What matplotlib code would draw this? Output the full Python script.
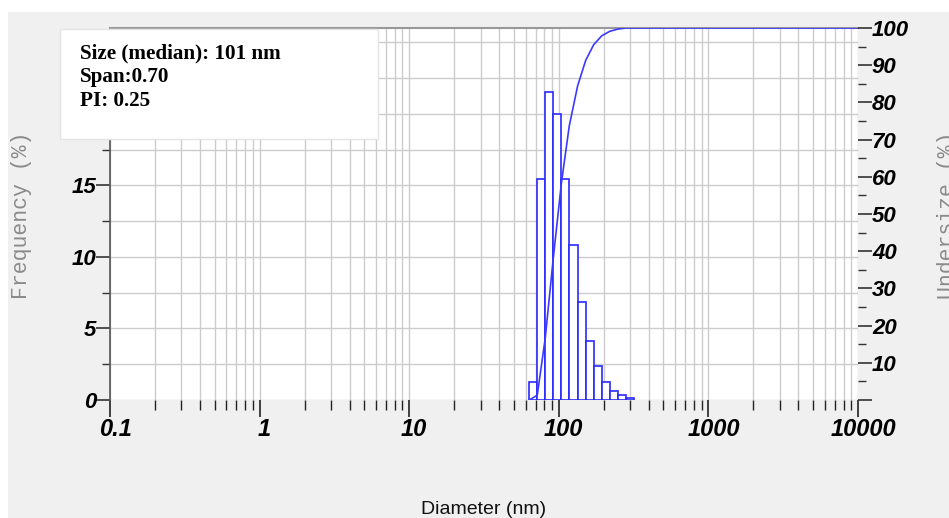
import matplotlib.pyplot as plt
from matplotlib.patches import Rectangle
from matplotlib.ticker import FixedLocator, NullFormatter, FixedFormatter
import matplotlib.transforms as mtransforms
import numpy as np

# bin edges (nm) and frequency (%)
bin_edges = [63.5, 71.8, 81.2, 91.9, 104, 117.5, 133.7, 151.3, 171, 193.6, 218.8, 247.6, 280, 316]
frequency = [1.26, 15.45, 21.5, 20.0, 15.45, 10.8, 6.87, 4.13, 2.38, 1.24, 0.65, 0.33, 0.16]

# cumulative undersize curve (%)
cum_d = [63.5, 71.8, 81.2, 91.9, 104, 117.5, 133.7, 151.3, 171, 193.6, 218.8, 247.6, 280, 10000]
cum_pct = [0, 1.3, 16.7, 38.2, 58.2, 73.7, 84.5, 91.3, 95.5, 97.9, 99.1, 99.7, 100, 100]

x_ticks = [0.1, 1, 10, 100, 1000, 10000]
x_ticklabels = ['0.1', '1', '10', '100', '1000', '10000']
y_ticks = [0, 5, 10, 15, 20, 25]
y_ticklabels = ['0', '5', '10', '15', '', '']   # 20 and 25 sit behind the info box
info_lines = ['Size (median): 101 nm', 'Span:0.70', 'PI: 0.25']

W, H = 949, 518
fig = plt.figure(figsize=(W / 100, H / 100), dpi=100, facecolor='#f0f0f0')
# white strips at the top/left edge of the screenshot
fig.add_artist(Rectangle((0, 1 - 12 / H), 1, 12 / H, transform=fig.transFigure,
                         facecolor='white', edgecolor='none', zorder=-1))
fig.add_artist(Rectangle((0, 0), 8 / W, 1, transform=fig.transFigure,
                         facecolor='white', edgecolor='none', zorder=-1))

ax = fig.add_axes([110 / W, (H - 400) / H, 748 / W, 372 / H])
ax.set_facecolor('white')
ax.set_xscale('log')
ax.set_xlim(0.1, 10000)
ax.set_ylim(0, 26)

tick_family = ['Liberation Sans Narrow', 'Liberation Sans']
y_font = dict(family=tick_family, weight='bold', style='italic', size=16)
x_font = dict(family=tick_family, weight='bold', style='italic', size=17)

# grid
minor_x = [m * 10.0 ** e for e in range(-1, 4) for m in range(2, 10)]
ax.xaxis.set_major_locator(FixedLocator(x_ticks))
ax.xaxis.set_minor_locator(FixedLocator(minor_x))
ax.xaxis.set_major_formatter(FixedFormatter(x_ticklabels))
ax.xaxis.set_minor_formatter(NullFormatter())
ax.yaxis.set_major_locator(FixedLocator(y_ticks))
ax.yaxis.set_major_formatter(FixedFormatter(y_ticklabels))
ax.yaxis.set_minor_locator(FixedLocator([2.5, 7.5, 12.5, 17.5, 22.5]))
ax.grid(True, which='both', color='#cccccc', linewidth=1.0)
ax.set_axisbelow(True)

ax.tick_params(axis='x', which='major', length=12, width=1.2, color='#222222', pad=1, direction='out')
ax.tick_params(axis='x', which='minor', length=7, width=1.0, color='#222222', direction='out')
ax.tick_params(axis='y', which='major', length=10, width=1.2, color='#333333', pad=0, direction='out')
ax.tick_params(axis='y', which='minor', length=6, width=1.0, color='#333333', direction='out')
for lab in ax.get_xticklabels():
    lab.set_fontproperties(x_font)
    lab.set_transform(lab.get_transform() + mtransforms.ScaledTranslation(5 / 100, 0, fig.dpi_scale_trans))
for lab in ax.get_yticklabels():
    lab.set_fontproperties(y_font)

for s in ['right', 'bottom']:
    ax.spines[s].set_visible(False)
ax.spines['left'].set_color('#555555')
ax.spines['left'].set_linewidth(1.2)
ax.spines['top'].set_color('#999999')
ax.spines['top'].set_linewidth(1.5)

# histogram bars
edges = np.array(bin_edges)
ax.bar(edges[:-1], frequency, width=np.diff(edges), align='edge',
       facecolor='white', edgecolor='#2a2aff', linewidth=1.2, zorder=2)

# cumulative axis
ax2 = ax.twinx()
ax2.set_ylim(0, 100)
ax2.yaxis.set_major_locator(FixedLocator(list(range(0, 101, 10))))
ax2.yaxis.set_major_formatter(FixedFormatter([''] + [str(v) for v in range(10, 101, 10)]))
ax2.yaxis.set_minor_locator(FixedLocator(list(range(5, 100, 10))))
ax2.tick_params(axis='y', which='major', length=10, width=1.2, color='#333333', pad=0)
ax2.tick_params(axis='y', which='minor', length=6, width=1.0, color='#333333')
for lab in ax2.get_yticklabels():
    lab.set_fontproperties(y_font)
for s in ['left', 'right', 'bottom', 'top']:
    ax2.spines[s].set_visible(False)
ax2.plot(cum_d, cum_pct, color='#3a3aff', linewidth=1.2, zorder=3)

# axis titles
fig.text(22 / W, 1 - 215 / H, 'Frequency (%)', rotation=90, ha='center', va='center',
         family='Liberation Mono', size=15.5, color='#8a8a8a')
fig.text(948 / W, 1 - 215 / H, 'Undersize (%)', rotation=90, ha='center', va='center',
         family='Liberation Mono', size=15.5, color='#8a8a8a')
fig.text(484 / W, 1 - 509 / H, 'Diameter (nm)', ha='center', va='center',
         family='Liberation Sans', size=14, color='#111111')

# info box
fig.add_artist(Rectangle((60 / W, 1 - 139 / H), 318 / W, 110 / H, transform=fig.transFigure,
                         facecolor='white', edgecolor='#e4e4e4', linewidth=1, zorder=5))
for i, line in enumerate(info_lines):
    fig.text(80 / W, 1 - (53 + 24 * i) / H, line, ha='left', va='center',
             family='Liberation Serif', weight='bold', size=15.2, color='black', zorder=6)

fig.savefig('out.png', dpi=100, facecolor=fig.get_facecolor())
